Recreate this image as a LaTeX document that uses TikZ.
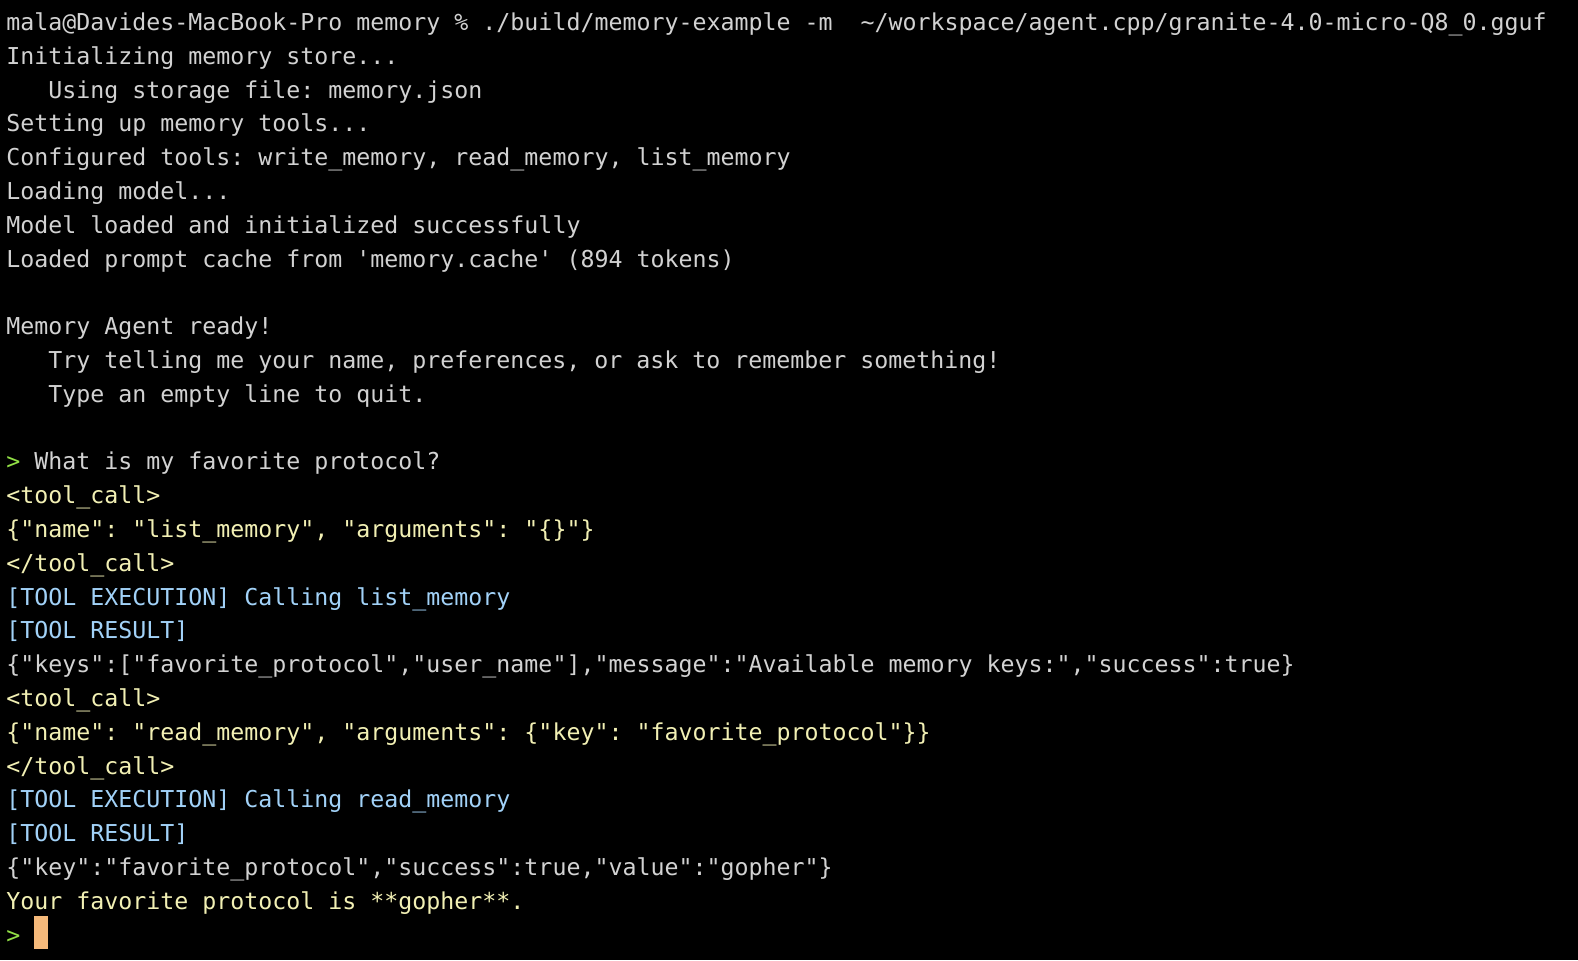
\documentclass[tikz,border=0pt]{standalone}
\usepackage{fontspec}
\setmonofont{DejaVu Sans Mono}
\usepackage{xcolor}
\usepackage{tikz}
\definecolor{termGray}{HTML}{D2D2D2}
\definecolor{termYellow}{HTML}{F2F0B4}
\definecolor{termBlue}{HTML}{A2D2F8}
\definecolor{termGreen}{HTML}{92E046}
\definecolor{termCursor}{HTML}{F5B97A}
\begin{document}
\begin{tikzpicture}[x=0.5pt,y=-0.5pt,
    termtext/.style={anchor=base west,inner sep=0pt,font=\ttfamily\fontsize{11.63}{13}\selectfont}]
        \newcommand\termLine[4]{\node[termtext,text=#2] (l#1) at (6+13.96*#3,30.5+33.8*#1) {#4}}
        \fill[black] (0,0) rectangle (1578,960);
        \termLine{0}{termGray}{0}{mala@Davides-MacBook-Pro memory \% ./build/memory-example -m\ \ \string~/workspace/agent.cpp/granite-4.0-micro-Q8\_0.gguf};
        \termLine{1}{termGray}{0}{Initializing memory store...};
        \termLine{2}{termGray}{3}{Using storage file: memory.json};
        \termLine{3}{termGray}{0}{Setting up memory tools...};
        \termLine{4}{termGray}{0}{Configured tools: write\_memory, read\_memory, list\_memory};
        \termLine{5}{termGray}{0}{Loading model...};
        \termLine{6}{termGray}{0}{Model loaded and initialized successfully};
        \termLine{7}{termGray}{0}{Loaded prompt cache from 'memory.cache' (894 tokens)};
        \termLine{9}{termGray}{0}{Memory Agent ready!};
        \termLine{10}{termGray}{3}{Try telling me your name, preferences, or ask to remember something!};
        \termLine{11}{termGray}{3}{Type an empty line to quit.};
        \termLine{13}{termGray}{0}{\textcolor{termGreen}{>} What is my favorite protocol?};
        \termLine{14}{termYellow}{0}{<tool\_call>};
        \termLine{15}{termYellow}{0}{\{"name": "list\_memory", "arguments": "\{\}"\}};
        \termLine{16}{termYellow}{0}{</tool\_call>};
        \termLine{17}{termBlue}{0}{[TOOL EXECUTION] Calling list\_memory};
        \termLine{18}{termBlue}{0}{[TOOL RESULT]};
        \termLine{19}{termGray}{0}{\{"keys":["favorite\_protocol","user\_name"],"message":"Available memory keys:","success":true\}};
        \termLine{20}{termYellow}{0}{<tool\_call>};
        \termLine{21}{termYellow}{0}{\{"name": "read\_memory", "arguments": \{"key": "favorite\_protocol"\}\}};
        \termLine{22}{termYellow}{0}{</tool\_call>};
        \termLine{23}{termBlue}{0}{[TOOL EXECUTION] Calling read\_memory};
        \termLine{24}{termBlue}{0}{[TOOL RESULT]};
        \termLine{25}{termGray}{0}{\{"key":"favorite\_protocol","success":true,"value":"gopher"\}};
        \termLine{26}{termYellow}{0}{Your favorite protocol is **gopher**.};
        \termLine{27}{termGreen}{0}{>};
        \fill[termCursor] (34,916) rectangle (48,949);
        \end{tikzpicture}
\end{document}
